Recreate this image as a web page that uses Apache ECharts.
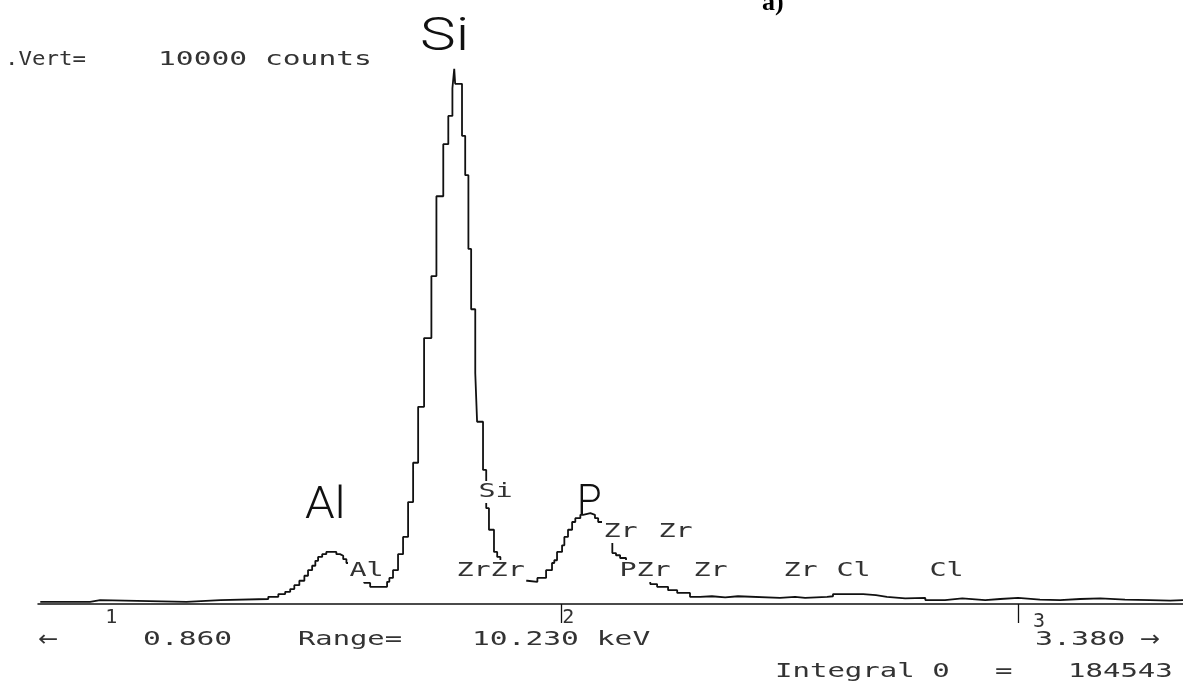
<!DOCTYPE html>
<html><head><meta charset="utf-8">
<script src="https://cdn.jsdelivr.net/npm/echarts@6/dist/echarts.min.js"></script>
<style>html,body{margin:0;padding:0;background:#fff}#c{width:1183px;height:684px}</style>
</head><body><div id="c"></div>
<script>
// Energy (keV) at the left edge of each step of the spectrum
const energyKeV = [
  0.860, 0.969, 0.991, 1.180, 1.254, 1.359, 1.381, 1.396, 1.407, 1.416,
  1.427, 1.438, 1.446, 1.455, 1.462, 1.468, 1.477, 1.486, 1.508, 1.516,
  1.523, 1.530, 1.543, 1.556, 1.569, 1.582, 1.619, 1.624, 1.632, 1.643,
  1.654, 1.665, 1.676, 1.687, 1.700, 1.716, 1.727, 1.742, 1.753, 1.762,
  1.766, 1.768, 1.783, 1.790, 1.797, 1.803, 1.812, 1.816, 1.829, 1.836,
  1.842, 1.853, 1.860, 1.867, 1.880, 1.895, 1.910, 1.926, 1.948, 1.967,
  1.980, 1.985, 1.991, 2.002, 2.007, 2.015, 2.024, 2.031, 2.042, 2.048,
  2.064, 2.074, 2.081, 2.092, 2.101, 2.112, 2.120, 2.129, 2.142, 2.160,
  2.177, 2.195, 2.210, 2.234, 2.254, 2.282, 2.304, 2.330, 2.359, 2.387,
  2.479, 2.512, 2.534, 2.582, 2.595, 2.661, 2.689, 2.713, 2.753, 2.797,
  2.840, 2.878, 2.928, 2.961, 3.000, 3.048, 3.092, 3.136, 3.180, 3.234,
  3.289, 3.333, 3.361
];
// Counts of each step
const counts = [
  40, 70, 40, 70, 90, 130, 180, 220, 270, 340,
  420, 510, 610, 690, 780, 850, 900, 940, 900, 870,
  810, 740, 610, 490, 380, 310, 400, 470, 610, 900,
  1210, 1840, 2550, 3560, 4800, 5920, 7360, 8300, 8810, 9310,
  9660, 9390, 8450, 7740, 6410, 5320, 4170, 3290, 2420, 1730,
  1340, 940, 850, 720, 600, 490, 420, 400, 470, 610,
  740, 790, 940, 1060, 1210, 1340, 1480, 1550, 1610, 1640,
  1610, 1550, 1480, 1340, 1160, 920, 880, 830, 690, 540,
  430, 360, 310, 250, 200, 130, 140, 120, 140, 110,
  130, 110, 130, 140, 180, 160, 130, 100, 110, 70,
  100, 70, 90, 110, 80, 70, 90, 100, 80, 70,
  60, 70, 70
];
const tickMarkValues = [2, 3];
const tickLabelValues = [1, 2, 3];

const chart = echarts.init(document.getElementById('c'), null, {renderer: 'canvas'});
const mono = 'DejaVu Sans Mono';
const textColor = '#333';
function txt(text, x, y, o) {
  o = o || {};
  const st = {
    text: text,
    fontFamily: o.font || mono,
    fontSize: o.size || 20,
    fontWeight: o.weight || 'normal',
    fill: o.color || textColor,
    align: 'left', textAlign: 'left',
    verticalAlign: o.va || 'middle', textVerticalAlign: o.va || 'middle'
  };
  if (o.bg) { st.backgroundColor = '#fff'; st.padding = [1, 1]; }
  return {type: 'text', x: x, y: y, z: 100, silent: true, scaleX: o.sx || 1.42, style: st};
}
const big = {font: 'Roboto', weight: 300, color: '#111'};
const option = {
  animation: false,
  backgroundColor: '#fff',
  grid: {left: 38, right: 0, top: 50, bottom: 80},
  xAxis: {
    type: 'value', min: 0.855, max: 3.361,
    axisLine: {show: true, onZero: false, lineStyle: {color: '#111', width: 1.5}},
    axisTick: {show: true, customValues: tickMarkValues, length: 19, lineStyle: {color: '#111', width: 1.3}},
    axisLabel: {
      show: true, customValues: tickLabelValues, margin: 4, align: 'left', verticalAlign: 'top',
      fontFamily: mono, fontSize: 20, color: textColor,
      formatter: function (v) {
        const k = Math.round(v);
        return '{' + (k === 1 ? 'a' : k === 2 ? 'b' : 'c') + '|' + k + '}';
      },
      rich: {
        a: {fontFamily: mono, fontSize: 20, color: textColor, padding: [0, 0, 0, 1]},
        b: {fontFamily: mono, fontSize: 20, color: textColor, padding: [0, 0, 0, 1]},
        c: {fontFamily: mono, fontSize: 20, color: textColor, padding: [4, 0, 0, 15]}
      }
    },
    splitLine: {show: false}
  },
  yAxis: {type: 'value', min: 0, max: 10000, show: false},
  series: [{
    type: 'line', step: 'end', symbol: 'none', silent: true,
    data: energyKeV.map(function (e, i) { return [e, counts[i]]; }),
    lineStyle: {color: '#111', width: 1.8}
  }],
  graphic: {elements: [
    txt('a)', 762, 16, {font: 'Liberation Serif', weight: 'bold', size: 26, color: '#000', sx: 1, va: 'bottom'}),
    txt('.Vert=', 5, 60, {sx: 1.12}),
    txt('10000 counts', 158, 60, {sx: 1.48}),
    txt('Si', 420, 38, Object.assign({size: 47, sx: 1.28}, big)),
    txt('Al', 305, 507, Object.assign({size: 44, sx: 1.08}, big)),
    txt('P', 577, 503, Object.assign({size: 42, sx: 0.95}, big)),
    txt('Si', 477, 492, {bg: true}),
    txt('Al', 348, 571, {bg: true}),
    txt('ZrZr', 455, 571, {bg: true}),
    txt('Zr', 602, 532, {bg: true}),
    txt('Zr', 657, 532, {bg: true}),
    txt('PZr', 618, 571, {bg: true}),
    txt('Zr', 692, 571, {bg: true}),
    txt('Zr', 782, 571, {bg: true}),
    txt('Cl', 835, 571, {bg: true}),
    txt('Cl', 928, 571, {bg: true}),
    txt('←', 38, 640, {font: 'DejaVu Sans', size: 22, sx: 1.1}),
    txt('0.860', 143, 640, {sx: 1.48}),
    txt('Range=', 298, 640, {sx: 1.44}),
    txt('10.230 keV', 472, 640, {sx: 1.48}),
    txt('3.380', 1035, 640, {sx: 1.5}),
    txt('→', 1140, 640, {font: 'DejaVu Sans', size: 22, sx: 1.1}),
    txt('Integral 0', 775, 672, {sx: 1.45}),
    txt('=', 995, 672, {sx: 1.45}),
    txt('184543', 1068, 672, {sx: 1.45})
  ]}
};
chart.setOption(option);
</script>
</body></html>
